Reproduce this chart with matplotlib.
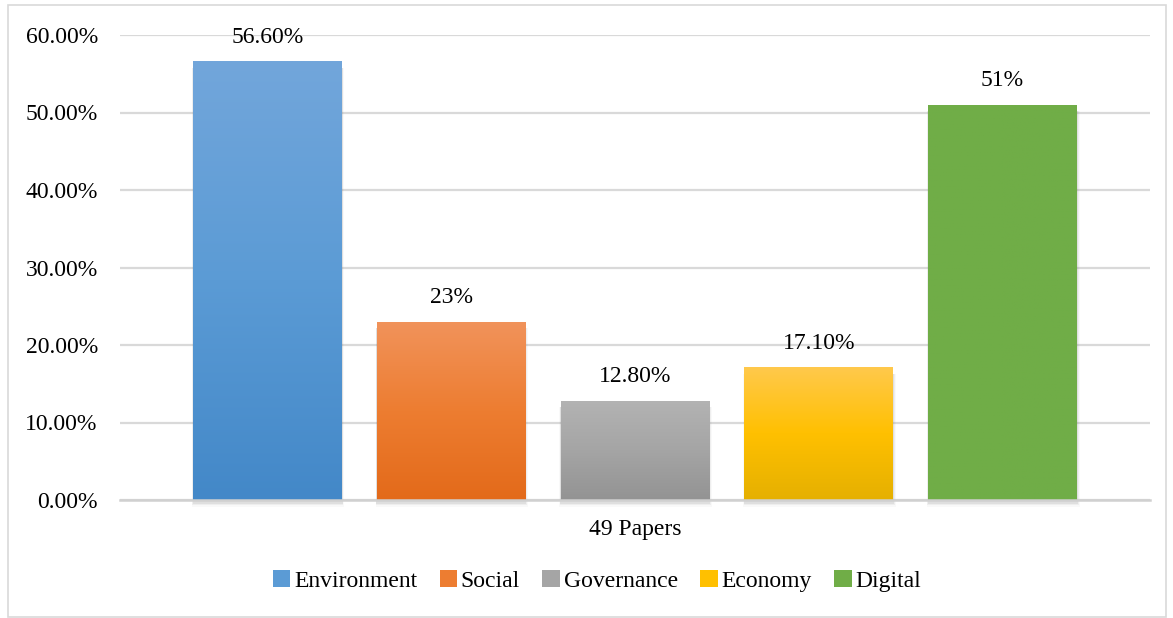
import numpy as np
import matplotlib
matplotlib.use("Agg")
import matplotlib.pyplot as plt
from matplotlib.patches import Rectangle, Patch
from matplotlib.colors import LinearSegmentedColormap

categories = ["Environment", "Social", "Governance", "Economy", "Digital"]
values = [0.566, 0.23, 0.128, 0.171, 0.51]
value_labels = ["56.60%", "23%", "12.80%", "17.10%", "51%"]
group_label = "49 Papers"
yticks = [0.0, 0.1, 0.2, 0.3, 0.4, 0.5, 0.6]

# gradient colours (top, middle, bottom) and legend colours
gradients = [
    ["#72A6DB", "#5B9BD5", "#4388C8"],
    ["#F1935B", "#ED7D31", "#E36A1A"],
    ["#B3B3B3", "#A5A5A5", "#939393"],
    ["#FFC94C", "#FFC000", "#E5B000"],
    ["#70AD47", "#70AD47", "#70AD47"],
]
legend_colors = ["#5B9BD5", "#ED7D31", "#A5A5A5", "#FFC000", "#70AD47"]

plt.rcParams['font.family'] = ['Liberation Serif', 'DejaVu Serif']

fig = plt.figure(figsize=(11.73, 6.18), dpi=100)
W, H = 1173, 618
# outer border
fig.patches.append(Rectangle((8 / W, 1 - 617 / H), (1166 - 8) / W, (617 - 5) / H,
                             transform=fig.transFigure, fill=False,
                             edgecolor="#D9D9D9", linewidth=1.2))

ax = fig.add_axes([120 / W, 1 - 500 / H, (1150 - 120) / W, (500 - 35) / H])
x = np.arange(len(categories))
width = 0.81

for s in ["top", "right", "left"]:
    ax.spines[s].set_visible(False)
ax.spines["bottom"].set_color("#D0D0D0")
ax.spines["bottom"].set_linewidth(1.8)
ax.set_yticks(yticks)
ax.set_yticklabels([f"{t*100:.2f}%" for t in yticks], fontsize=17)
ax.tick_params(axis="y", length=0, pad=16)
ax.set_xticks([])
ax.yaxis.grid(True, color="#D9D9D9", linewidth=1.6)
ax.set_axisbelow(True)

# soft shadows (offset toward bottom-right)
for i, v in enumerate(values):
    for k, a in enumerate([0.12, 0.07, 0.04]):
        d = 0.005 * (k + 1)
        ax.add_patch(Rectangle((x[i] - width / 2 - d * 0.4, -0.004 - d * 0.3),
                               width + d * 1.3, v - 0.004 + d * 0.3,
                               facecolor="#707070", alpha=a,
                               edgecolor="none", zorder=1.5, clip_on=False))

bars = ax.bar(x, values, width=width, color=legend_colors, zorder=2)
for i, b in enumerate(bars):
    cmap = LinearSegmentedColormap.from_list(f"g{i}", gradients[i][::-1])
    grad = np.linspace(0, 1, 256).reshape(-1, 1)
    im = ax.imshow(grad, cmap=cmap, aspect="auto", origin="lower",
                   extent=[b.get_x(), b.get_x() + b.get_width(), 0, b.get_height()],
                   zorder=2.1)
    im.set_clip_path(b)
    ax.annotate(value_labels[i], (x[i], values[i]), xytext=(0, 24),
                textcoords="offset pixels", ha="center", va="center",
                fontsize=17, annotation_clip=False)

ax.set_xlim(-0.802, len(categories) - 1 + 0.802)
ax.set_ylim(0, 0.6)

ax.annotate(group_label, (np.mean(x), 0), xytext=(0, -30), textcoords="offset pixels",
            ha="center", va="center", fontsize=17, annotation_clip=False)

handles = [Patch(facecolor=c, edgecolor="none") for c in legend_colors]
fig.legend(handles, categories, loc="center", bbox_to_anchor=(597 / W, 1 - 581 / H),
           ncol=5, frameon=False, fontsize=17, handlelength=0.75, handleheight=0.75,
           handletextpad=0.15, columnspacing=0.95)

fig.savefig("out.png", dpi=100, facecolor="white")
